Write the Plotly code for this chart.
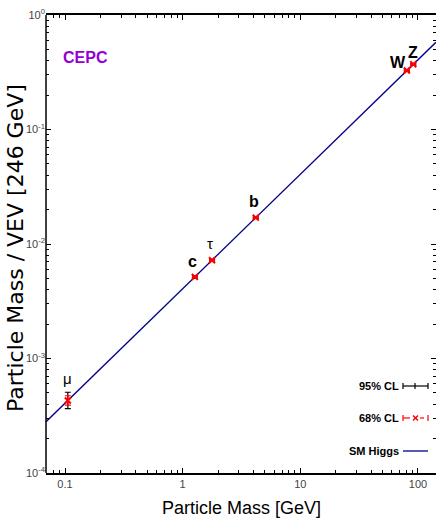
import math
import plotly.graph_objects as go

# ---- data ----
particles = ["μ", "c", "τ", "b", "W", "Z"]
mass_gev = [0.1057, 1.27, 1.777, 4.18, 80.4, 91.19]
mass_over_vev = [0.00043, 0.00516, 0.00722, 0.0170, 0.327, 0.371]
err95_rel = [0.18, 0.025, 0.015, 0.015, 0.015, 0.015]
err68_rel = [0.10, 0.012, 0.008, 0.008, 0.008, 0.008]
vev = 246.0
line_mass = [0.069, 142.0]
line_ratio = [m / vev for m in line_mass]

x_tickvals = [0.1, 1, 10, 100]
x_ticktext = ["0.1", "1", "10", "100"]
y_tickvals = [1e-4, 1e-3, 1e-2, 1e-1, 1]
y_ticktext = ["10<sup>-4</sup>", "10<sup>-3</sup>", "10<sup>-2</sup>", "10<sup>-1</sup>", "10<sup>0</sup>"]
x_minor = [d * 10 ** e for e in range(-2, 3) for d in range(2, 10)]
y_minor = [d * 10 ** e for e in range(-4, 0) for d in range(2, 10)]

# label offsets (px)
label_dx = [0, -2, -2, -2, -9, 0]
label_dy = [22, 15, 17, 16, 8, 12]
label_bold = [False, True, False, True, True, True]

W, H = 436, 521
L, R, T, B = 46, 0, 15, 48
PW, PH = W - L - R, H - T - B

def px(x):
    return (x - L) / PW

def py(y):
    return (H - B - y) / PH

SANS = "Liberation Sans, Arial, sans-serif"

fig = go.Figure()
fig.add_trace(go.Scatter(x=line_mass, y=line_ratio, mode="lines",
                         line=dict(color="#00008B", width=1.3), showlegend=False))
fig.add_trace(go.Scatter(
    x=mass_gev, y=mass_over_vev, mode="markers",
    marker=dict(size=1, color="black"),
    error_y=dict(type="data", symmetric=False,
                 array=[v * e for v, e in zip(mass_over_vev, err95_rel)],
                 arrayminus=[v * e / (1 + e) for v, e in zip(mass_over_vev, err95_rel)],
                 color="black", thickness=1.2, width=3),
    showlegend=False))
fig.add_trace(go.Scatter(
    x=mass_gev, y=mass_over_vev, mode="markers",
    marker=dict(size=6, color="red", symbol="x-thin-open", line=dict(width=2, color="red")),
    error_y=dict(type="data", symmetric=False,
                 array=[v * e for v, e in zip(mass_over_vev, err68_rel)],
                 arrayminus=[v * e / (1 + e) for v, e in zip(mass_over_vev, err68_rel)],
                 color="red", thickness=1.2, width=3),
    showlegend=False))

ann = []
for name, m, v, dx, dy, bold in zip(particles, mass_gev, mass_over_vev, label_dx, label_dy, label_bold):
    ann.append(dict(x=math.log10(m), y=math.log10(v), xref="x", yref="y",
                    text=f"<b>{name}</b>" if bold else name, showarrow=False,
                    xshift=dx, yshift=dy,
                    font=dict(family=SANS, size=16 if bold else 15, color="black")))

ann.append(dict(x=px(61), y=py(47), xref="paper", yref="paper", xanchor="left",
                text="<b>CEPC</b>", showarrow=False,
                font=dict(family=SANS, size=16, color="#9400D3")))
ann.append(dict(x=px(15), y=py(248), xref="paper", yref="paper", xanchor="center", yanchor="middle",
                text="Particle Mass / VEV [246 GeV]", textangle=-90, showarrow=False,
                font=dict(family="DejaVu Sans, sans-serif", size=22, color="black")))
ann.append(dict(x=px(241), y=py(508), xref="paper", yref="paper", xanchor="center", yanchor="middle",
                text="Particle Mass [GeV]", showarrow=False,
                font=dict(family=SANS, size=18, color="black")))

# legend
leg_y = [386, 418, 451]
leg_text = ["95% CL", "68% CL", "SM Higgs"]
for t, yy in zip(leg_text, leg_y):
    ann.append(dict(x=px(401), y=py(yy), xref="paper", yref="paper", xanchor="right", yanchor="middle",
                    text=f"<b>{t}</b>", showarrow=False,
                    font=dict(family=SANS, size=11, color="black")))
shapes = []
def seg(x0, y0, x1, y1, color, width=1.2, dash="solid"):
    shapes.append(dict(type="line", xref="paper", yref="paper", x0=px(x0), y0=py(y0), x1=px(x1), y1=py(y1),
                       line=dict(color=color, width=width, dash=dash)))
# left axis line
shapes.append(dict(type="line", xref="paper", yref="paper", x0=0, x1=0, y0=0, y1=1,
                   line=dict(color="black", width=1.5)))
# 95% sample
seg(403, 386, 428, 386, "black")
seg(403, 383, 403, 389, "black")
seg(428, 383, 428, 389, "black")
seg(415, 383, 415, 389, "black")
# 68% sample
seg(403, 418, 410, 418, "red")
seg(420, 418, 424, 418, "red")
seg(403, 415, 403, 421, "red")
seg(428, 415, 428, 421, "red")
seg(413, 415.5, 418, 420.5, "red", 1.5)
seg(413, 420.5, 418, 415.5, "red", 1.5)
# SM Higgs sample
seg(403, 451, 428, 451, "#00008B", 1.3)

axis_common = dict(ticks="inside", ticklen=5, tickwidth=1, tickcolor="black",
                   showgrid=False, zeroline=False,
                   tickfont=dict(family=SANS, size=11, color="#444444"))

fig.update_xaxes(type="log", range=[math.log10(0.1) - 19 / 117.6, math.log10(100) + 18 / 117.6],
                 showline=True, linecolor="black", linewidth=1.5, mirror="allticks",
                 tickmode="array", tickvals=x_tickvals, ticktext=x_ticktext,
                 minor=dict(ticks="inside", ticklen=3, tickcolor="black", showgrid=False,
                            tickmode="array", tickvals=x_minor),
                 **axis_common)
fig.update_yaxes(type="log", range=[-4, 0],
                 showline=False, mirror="allticks",
                 tickmode="array", tickvals=y_tickvals, ticktext=y_ticktext,
                 minor=dict(ticks="inside", ticklen=3, tickcolor="black", showgrid=False,
                            tickmode="array", tickvals=y_minor),
                 **axis_common)

fig.update_layout(width=W, height=H, margin=dict(l=L, r=R, t=T, b=B),
                  paper_bgcolor="white", plot_bgcolor="white",
                  annotations=ann, shapes=shapes, showlegend=False)

fig.write_html("out.html")
